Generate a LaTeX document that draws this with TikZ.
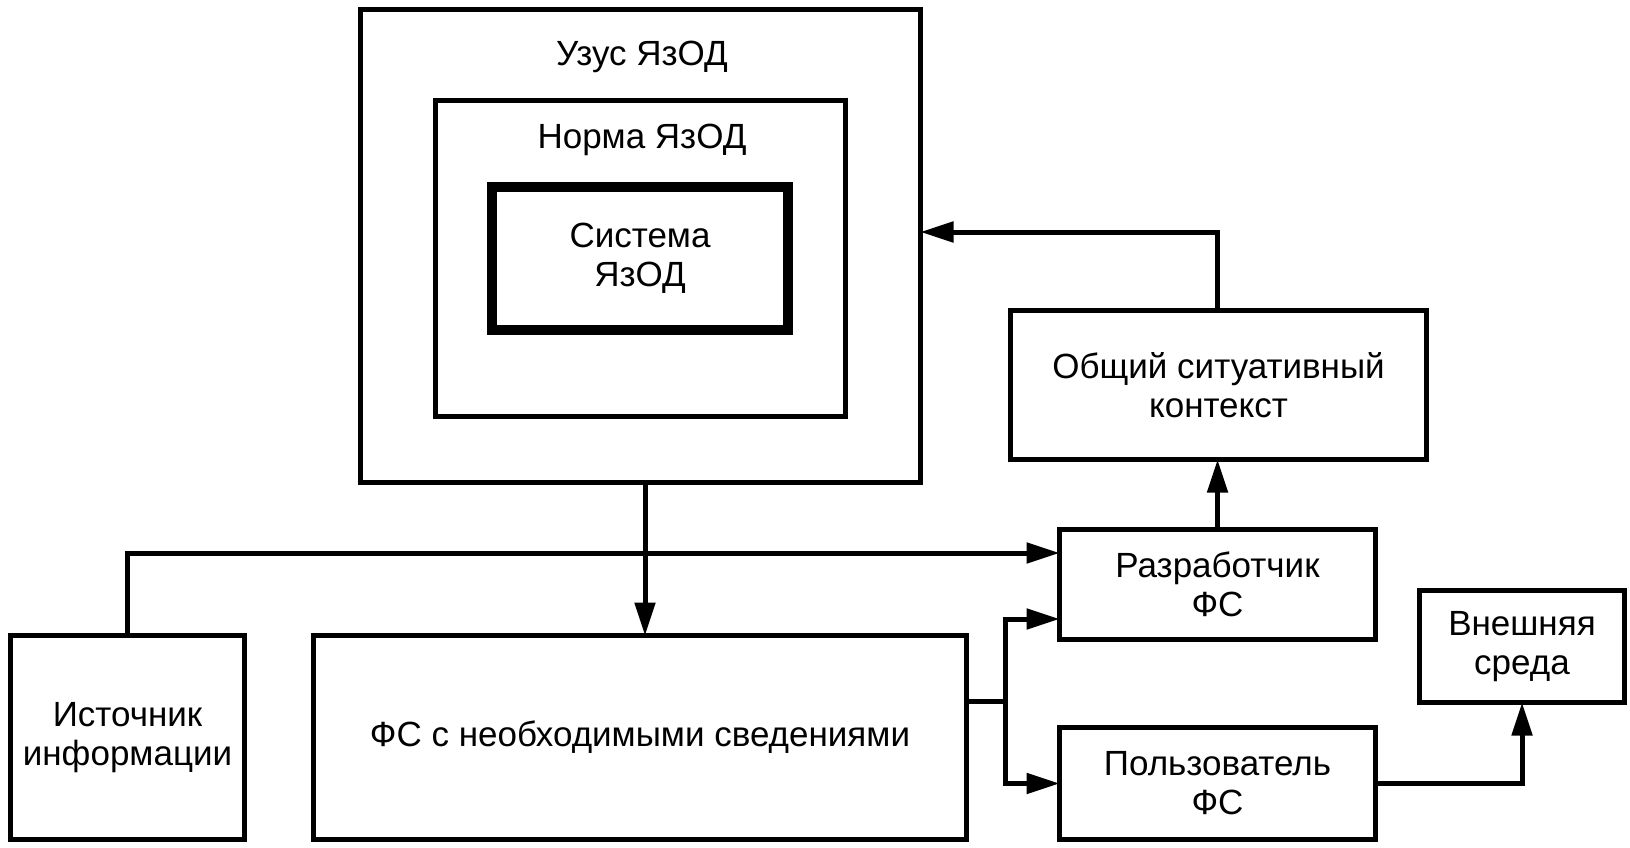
\documentclass[tikz,border=0pt]{standalone}
\usepackage{fontspec}
\setmainfont{Liberation Sans}
\usetikzlibrary{arrows.meta}
\begin{document}
\begin{tikzpicture}[x=1pt,y=-1pt,
  box/.style={draw, line width=5pt, inner sep=0pt, outer sep=0pt, align=center,
    font=\fontsize{35}{39}\selectfont},
  lbl/.style={inner sep=0pt, anchor=base, font=\fontsize{35}{39}\selectfont},
  conn/.style={line width=5pt},
  arr/.style={line width=5pt, -{Triangle[length=33pt,width=20pt]}}]
\useasboundingbox (0,0) rectangle (1630,847);
% nested boxes
\node[box, minimum width=560pt, minimum height=473pt] (uzus) at (640.5,246) {};
\node[box, minimum width=410pt, minimum height=316pt] (norma) at (640.5,258.5) {};
\node[box, line width=10pt, minimum width=296pt, minimum height=143pt] (sist) at (640,258.5) {Система\\ЯзОД};
\node[lbl] (uzust) at (642,65) {Узус ЯзОД};
\node[lbl] (normat) at (642,148) {Норма ЯзОД};
% other boxes
\node[box, minimum width=416pt, minimum height=149pt] (obsh) at (1218.5,385) {Общий ситуативный\\контекст};
\node[box, minimum width=316pt, minimum height=110pt] (razr) at (1217.5,584.5) {Разработчик\\ФС};
\node[box, minimum width=316pt, minimum height=112pt] (polz) at (1217.5,783.5) {Пользователь\\ФС};
\node[box, minimum width=205pt, minimum height=112pt] (vnesh) at (1522,646.5) {Внешняя\\среда};
\node[box, minimum width=234pt, minimum height=204pt] (ist) at (127.5,737.5) {Источник\\информации};
\node[box, minimum width=653pt, minimum height=204pt] (fs) at (640,737.5) {ФС с необходимыми сведениями};
% coordinates
\coordinate (ua) at (645,482.5);
\coordinate (fa) at (645,635.5);
\coordinate (br) at (1005,701);
\coordinate (fr) at (fs.east |- br);
% connectors
\draw[arr] (ist.north) -- (ist.north |- 0,553) -- (razr.west |- 0,553);
\draw[arr] (ua) -- (fa);
\draw[conn] (fr) -- (br);
\draw[arr] (br) -- (br |- 0,619) -- (razr.west |- 0,619);
\draw[arr] (br) -- (br |- polz.west) -- (polz.west);
\draw[arr] (razr.north) -- (razr.north |- obsh.south);
\draw[arr] (razr.north |- obsh.north) -- (razr.north |- 0,232) -- (uzus.east |- 0,232);
\draw[arr] (polz.east) -- (vnesh.south |- polz.east) -- (vnesh.south);
\end{tikzpicture}
\end{document}
